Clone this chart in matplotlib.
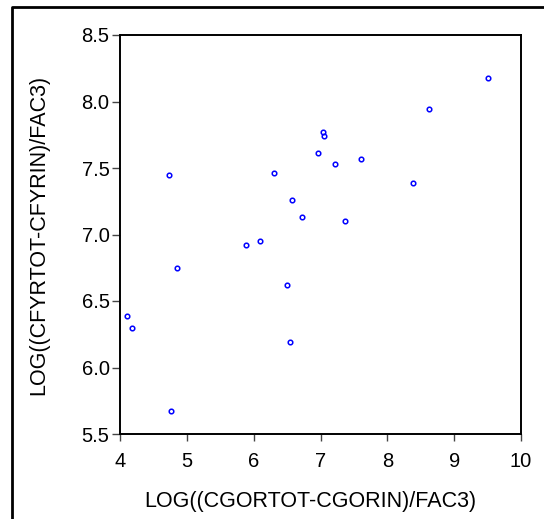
import matplotlib.pyplot as plt
from matplotlib.lines import Line2D

plt.rcParams['font.family'] = ['Liberation Sans', 'DejaVu Sans']

# values
x = [9.50, 8.63, 7.04, 7.05, 6.97, 7.22, 7.61, 4.73, 6.30, 8.39, 6.575,
     6.72, 7.36, 5.886, 6.096, 4.86, 6.50, 4.10, 4.175, 6.545, 4.76]
y = [8.18, 7.94, 7.77, 7.74, 7.61, 7.53, 7.57, 7.45, 7.46, 7.385, 7.26,
     7.13, 7.10, 6.92, 6.95, 6.75, 6.62, 6.39, 6.30, 6.19, 5.67]
xticks = [4, 5, 6, 7, 8, 9, 10]
yticks = [5.5, 6.0, 6.5, 7.0, 7.5, 8.0, 8.5]
ytick_labels = ["5.5", "6.0", "6.5", "7.0", "7.5", "8.0", "8.5"]

fig = plt.figure(figsize=(5.44, 5.19), dpi=100)
ax = fig.add_axes([120/544, 1 - 434/519, 401/544, 399/519])

ax.plot(x, y, 'o', ms=3.3, mfc='none', mec='blue', mew=1.1)

ax.set_xlim(4, 10)
ax.set_ylim(5.5, 8.5)
ax.set_xticks(xticks)
ax.set_yticks(yticks)
ax.set_yticklabels(ytick_labels)
ax.tick_params(axis='x', direction='out', length=5, width=1, labelsize=14.5, pad=8,
               color='#444444')
ax.tick_params(axis='y', direction='out', length=6, width=1, labelsize=14.5, pad=1.5,
               color='#444444')
for s in ax.spines.values():
    s.set_linewidth(1.4)

ax.set_xlabel("LOG((CGORTOT-CGORIN)/FAC3)", fontsize=15.5, labelpad=14, x=0.475)
ax.set_ylabel("LOG((CFYRTOT-CFYRIN)/FAC3)", fontsize=15.5, labelpad=23)

# outer frame (top and left edges visible)
fig.add_artist(Line2D([12/544, 12/544, 1], [0, 1 - 7/519, 1 - 7/519],
                      transform=fig.transFigure, color='black', lw=2))

fig.savefig("out.png", dpi=100)
